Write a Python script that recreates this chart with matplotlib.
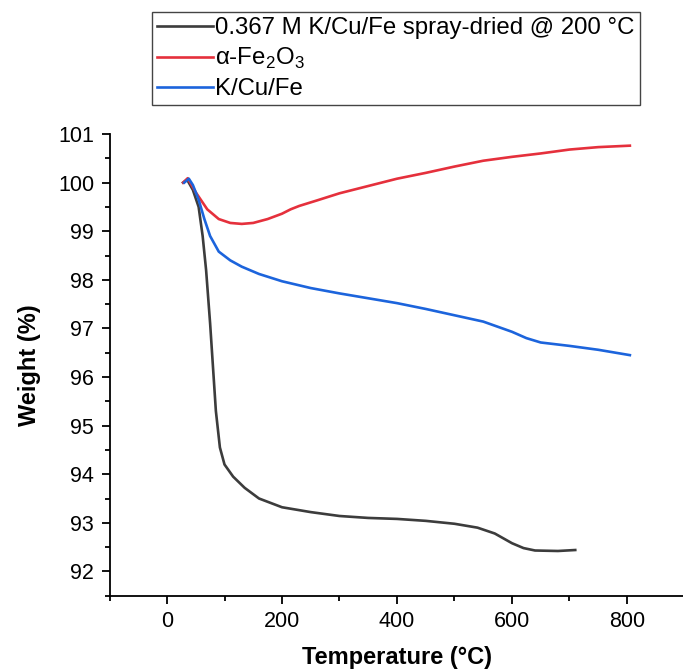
import matplotlib
matplotlib.use("Agg")
import matplotlib.pyplot as plt
from matplotlib.ticker import MultipleLocator

plt.rcParams['font.family'] = ['Liberation Sans', 'DejaVu Sans']
plt.rcParams['mathtext.fontset'] = 'custom'
plt.rcParams['mathtext.rm'] = 'Liberation Sans'

# Data
black_T = [28, 35, 45, 55, 62, 68, 75, 80, 85, 92, 100, 115, 135, 160, 200, 250, 300, 350,
           400, 450, 500, 540, 570, 600, 620, 640, 680, 710]
black_W = [100.0, 100.06, 99.85, 99.5, 98.9, 98.2, 97.1, 96.2, 95.3, 94.55, 94.2, 93.95, 93.72,
           93.5, 93.32, 93.22, 93.14, 93.1, 93.08, 93.04, 92.98, 92.9, 92.78, 92.58, 92.48,
           92.43, 92.42, 92.44]

red_T = [28, 36, 50, 70, 90, 110, 130, 150, 175, 200, 215, 230, 260, 300, 350, 400, 450, 500,
         550, 600, 650, 700, 750, 805]
red_W = [100.0, 100.09, 99.8, 99.45, 99.25, 99.17, 99.15, 99.17, 99.25, 99.36, 99.45, 99.52,
         99.63, 99.78, 99.93, 100.08, 100.2, 100.33, 100.45, 100.53, 100.6, 100.68, 100.73,
         100.76]

blue_T = [30, 38, 45, 55, 65, 75, 90, 110, 130, 160, 200, 250, 300, 350, 400, 450, 500, 550,
          600, 625, 650, 700, 750, 805]
blue_W = [100.0, 100.08, 99.95, 99.65, 99.25, 98.9, 98.58, 98.40, 98.27, 98.12, 97.97, 97.83,
          97.72, 97.62, 97.52, 97.40, 97.27, 97.14, 96.93, 96.80, 96.71, 96.64, 96.56, 96.45]

labels = ['0.367 M K/Cu/Fe spray-dried @ 200 °C', r'α-Fe$_2$O$_3$', 'K/Cu/Fe']
colors = ['#3c3c3c', '#e5303c', '#1c64dc']

fig = plt.figure(figsize=(6.83, 6.71), dpi=100)
ax = fig.add_axes([109.5 / 683, 1 - 595.7 / 671, 575 / 683, 461.7 / 671])

lw = 1.9
l1, = ax.plot(black_T, black_W, color=colors[0], lw=lw, label=labels[0])
l2, = ax.plot(red_T, red_W, color=colors[1], lw=lw, label=labels[1])
l3, = ax.plot(blue_T, blue_W, color=colors[2], lw=lw, label=labels[2])

ax.set_xlim(-100, 900)
ax.set_ylim(91.5, 101)
ax.xaxis.set_major_locator(MultipleLocator(200))
ax.xaxis.set_minor_locator(MultipleLocator(100))
ax.yaxis.set_major_locator(MultipleLocator(1))
ax.yaxis.set_minor_locator(MultipleLocator(0.5))
ax.set_xticks([0, 200, 400, 600, 800])

for s in ['top', 'right']:
    ax.spines[s].set_visible(False)
for s in ['left', 'bottom']:
    ax.spines[s].set_linewidth(1.3)

ax.tick_params(which='major', direction='out', length=6, width=1.3, labelsize=15.5, pad=5)
ax.tick_params(which='minor', direction='out', length=3.5, width=1.3)

ax.set_xlabel('Temperature (°C)', fontsize=17, fontweight='bold', labelpad=10)
ax.set_ylabel('Weight (%)', fontsize=17, fontweight='bold', labelpad=12)

leg = fig.legend(handles=[l1, l2, l3], labels=labels, loc='upper left',
                 bbox_to_anchor=(152 / 683, 1 - 12 / 671), fontsize=17.3,
                 frameon=True, fancybox=False, edgecolor='#444444', framealpha=1,
                 handlelength=2.3, handletextpad=0.1, labelspacing=0.28,
                 borderpad=0.22, borderaxespad=0)
leg.get_frame().set_linewidth(1.0)

fig.savefig('out.png', dpi=100)
